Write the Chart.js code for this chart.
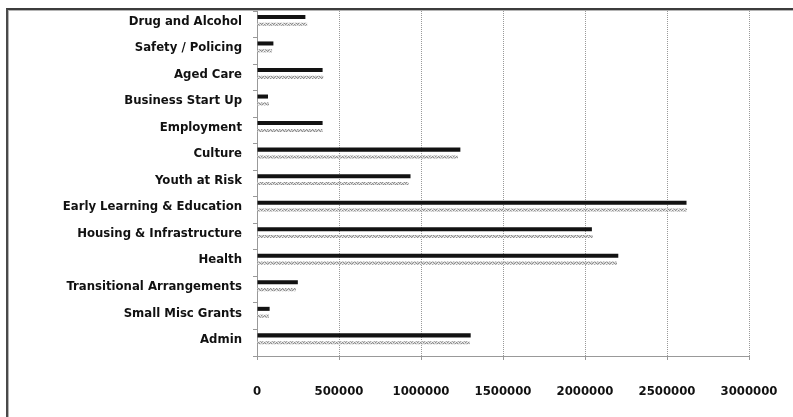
<!DOCTYPE html>
<html>
<head>
<meta charset="utf-8">
<script src="https://cdn.jsdelivr.net/npm/chart.js@4"></script>
<style>
  html, body { margin: 0; padding: 0; background: #fff; }
  #wrap { position: relative; width: 793px; height: 417px; overflow: hidden; }
  #c { position: absolute; left: 0; top: 0; }
  #frame {
    position: absolute; left: 6px; top: 8px; width: 900px; height: 500px;
    border-top: 2px solid #3c3c3c; border-left: 2px solid #4a4a4a;
    box-shadow: inset 1px 1px 0 #b4b4b4; pointer-events: none;
  }
</style>
</head>
<body>
<div id="wrap">
  <canvas id="c" width="793" height="417"></canvas>
  <div id="frame"></div>
</div>
<script>
// Program areas, top to bottom
const categories = [
  'Drug and Alcohol', 'Safety / Policing', 'Aged Care', 'Business Start Up',
  'Employment', 'Culture', 'Youth at Risk', 'Early Learning & Education',
  'Housing & Infrastructure', 'Health', 'Transitional Arrangements',
  'Small Misc Grants', 'Admin'
];

// Funding per program ($)
const series1 = [295000, 100000, 400000, 67000, 400000, 1240000, 936000,
                 2619000, 2042000, 2203000, 249000, 77000, 1303000];
const series2 = [306000, 92000, 404000, 73000, 400000, 1225000, 925000,
                 2622000, 2047000, 2195000, 237000, 73000, 1297000];
// Third series of the workbook: no amounts entered yet
const series3 = [];

// Value axis
const axisMin = 0;
const axisMax = 3000000;
const axisStep = 500000;

// Speckled light-grey fill for the second series
function speckleFill() {
  const p = document.createElement('canvas');
  p.width = 6; p.height = 3;
  const g = p.getContext('2d');
  g.fillStyle = '#cfcfcf';
  g.fillRect(0, 0, 6, 3);
  g.fillStyle = '#8e8e8e';
  [[0,0],[3,0],[1,1],[4,2],[2,2],[5,1]].forEach(([x, y]) => g.fillRect(x, y, 1, 1));
  g.fillStyle = '#f2f2f2';
  [[2,0],[5,0],[0,2]].forEach(([x, y]) => g.fillRect(x, y, 1, 1));
  return g.createPattern(p, 'repeat');
}

const ctx = document.getElementById('c').getContext('2d');
const fontFamily = '"Liberation Sans Narrow", "DejaVu Sans Condensed", sans-serif';

new Chart(ctx, {
  type: 'bar',
  data: {
    labels: categories,
    datasets: [
      { label: 'Series 1', data: series1, backgroundColor: '#121212',
        borderWidth: 0, barPercentage: 0.55, categoryPercentage: 0.83 },
      { label: 'Series 2', data: series2, backgroundColor: speckleFill(),
        borderWidth: 0, barPercentage: 0.42, categoryPercentage: 0.83 },
      { label: 'Series 3', data: series3, backgroundColor: '#777',
        borderWidth: 0, barPercentage: 0.5, categoryPercentage: 0.83 }
    ]
  },
  options: {
    indexAxis: 'y',
    responsive: false,
    animation: false,
    devicePixelRatio: 1,
    layout: { padding: { top: 11, right: 44, left: 0, bottom: 0 } },
    plugins: { legend: { display: false }, tooltip: { enabled: false } },
    scales: {
      x: {
        type: 'linear',
        min: axisMin,
        max: axisMax,
        afterFit: s => { s.height = 61; s.paddingLeft = 0; s.paddingRight = 0; },
        ticks: {
          stepSize: axisStep,
          padding: 24,
          maxRotation: 0,
          minRotation: 0,
          autoSkip: false,
          color: '#111',
          font: { family: fontFamily, size: 13, weight: 'bold' },
          callback: v => String(v)
        },
        grid: { color: '#999', lineWidth: 1, tickLength: 4 },
        border: { color: '#999', width: 1, dash: [1, 1] }
      },
      y: {
        type: 'category',
        afterFit: s => { s.width = 257; s.paddingTop = 0; s.paddingBottom = 0; },
        ticks: {
          padding: 11,
          labelOffset: -3,
          color: '#111',
          font: { family: fontFamily, size: 13, weight: 'bold' }
        },
        grid: { drawOnChartArea: false, tickLength: 4, color: '#999' },
        border: { color: '#999', width: 1 }
      }
    }
  }
});
</script>
</body>
</html>
